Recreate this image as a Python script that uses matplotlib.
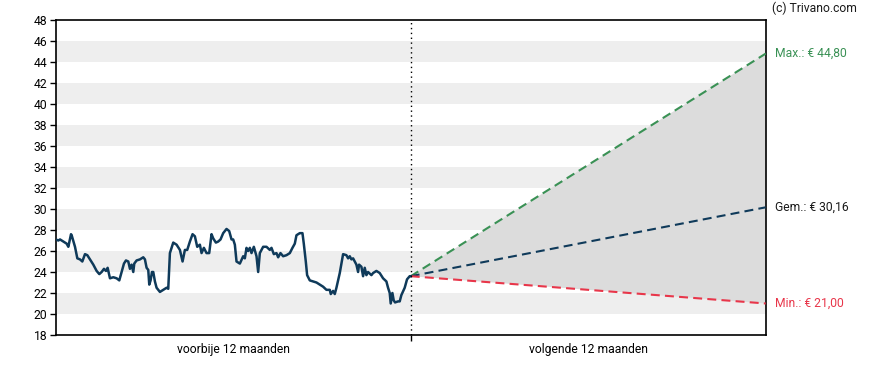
import matplotlib
matplotlib.use("Agg")
import matplotlib.pyplot as plt
import numpy as np

plt.rcParams['font.family'] = ['Roboto', 'DejaVu Sans']

# trace positions (0..1066 across the past 12 months) and prices, 10 per row
trace_x = [0, 8, 13, 23, 33, 38, 46, 48, 58, 65,
           73, 80, 88, 95, 103, 113, 123, 131, 138, 145,
           151, 156, 163, 173, 183, 191, 198, 205, 211, 218,
           223, 228, 233, 236, 243, 253, 263, 268, 273, 278,
           281, 285, 289, 293, 298, 303, 313, 323, 333, 338,
           343, 348, 353, 363, 373, 381, 388, 395, 403, 411,
           418, 425, 433, 438, 445, 453, 461, 468, 473, 481,
           488, 495, 503, 513, 521, 528, 533, 538, 543, 553,
           563, 568, 573, 578, 583, 588, 595, 603, 608, 613,
           618, 623, 633, 643, 648, 655, 663, 668, 675, 683,
           693, 703, 711, 718, 723, 733, 741, 745, 751, 755,
           763, 773, 783, 793, 803, 813, 823, 826, 833, 838,
           843, 848, 853, 858, 863, 873, 878, 883, 888, 893,
           898, 903, 908, 911, 918, 923, 928, 933, 938, 948,
           953, 963, 973, 983, 993, 998, 1003, 1006, 1011, 1015,
           1019, 1028, 1033, 1038, 1048, 1055, 1063, 1066]
prices = [27.1, 27.0, 27.1, 26.9, 26.7, 26.4, 27.6, 27.5, 26.4, 25.3,
          25.2, 25.0, 25.7, 25.6, 25.2, 24.7, 24.1, 23.8, 24.0, 24.3,
          24.1, 24.4, 23.4, 23.5, 23.4, 23.2, 24.0, 24.8, 25.1, 25.0,
          24.3, 24.7, 24.0, 24.8, 25.1, 25.2, 25.4, 25.2, 24.4, 24.2,
          22.8, 23.2, 24.0, 24.0, 23.1, 22.5, 22.1, 22.3, 22.5, 22.4,
          25.8, 26.3, 26.8, 26.6, 26.1, 25.0, 26.1, 26.1, 26.9, 27.6,
          27.4, 26.4, 26.6, 25.8, 26.3, 25.8, 25.8, 27.6, 27.2, 26.8,
          26.9, 27.1, 27.7, 28.1, 27.9, 27.1, 27.1, 26.6, 25.0, 24.8,
          25.5, 25.3, 26.3, 26.0, 26.3, 25.8, 26.4, 25.5, 24.0, 25.8,
          26.1, 26.4, 26.4, 26.1, 26.3, 25.7, 25.8, 25.4, 25.8, 25.5,
          25.6, 25.8, 26.3, 26.7, 27.5, 27.7, 27.7, 26.7, 25.0, 23.7,
          23.2, 23.1, 23.0, 22.8, 22.6, 22.3, 22.3, 21.9, 22.2, 21.9,
          22.5, 23.2, 23.9, 24.8, 25.7, 25.6, 25.3, 25.5, 25.2, 25.3,
          25.0, 24.7, 24.0, 24.7, 24.5, 23.6, 24.4, 23.7, 24.0, 23.7,
          23.9, 24.1, 23.9, 23.4, 23.1, 22.5, 22.0, 21.0, 22.0, 21.3,
          21.1, 21.2, 21.2, 21.8, 22.5, 23.3, 23.6, 23.6]

start_price = 23.6
forecast_max = 44.80
forecast_avg = 30.16
forecast_min = 21.00

y_ticks = list(range(18, 49, 2))
x_labels = ["voorbije 12 maanden", "volgende 12 maanden"]

navy = "#0f3a5a"
green = "#3a9155"
red = "#e8364a"
fs = 8.7

past_x = np.array(trace_x) / trace_x[-1]

fig = plt.figure(figsize=(8.88, 3.70), dpi=100)
ax = fig.add_axes([0.0627, 0.0946, 0.7996, 0.8514])
ax.set_xlim(0, 2)
ax.set_ylim(18, 48)

# background bands
for lo in range(20, 46, 4):
    ax.axhspan(lo, lo + 2, color="#eeeeee", lw=0, zorder=0)

# forecast fill
ax.fill([1, 2, 2], [start_price, forecast_max, forecast_min], color="#dcdcdc", lw=0, zorder=1)

ax.plot(past_x, prices, color=navy, lw=1.8, zorder=4, solid_joinstyle="round")

dash = (0, (4.3, 2.5))
ax.plot([1, 2], [start_price, forecast_max], color=green, lw=1.5, ls=dash, zorder=3)
ax.plot([1, 2], [start_price, forecast_avg], color=navy, lw=1.5, ls=dash, zorder=3)
ax.plot([1, 2], [start_price, forecast_min], color=red, lw=1.5, ls=dash, zorder=3)

ax.axvline(1, color="black", lw=1, ls=(0, (1, 2.5)), zorder=5)

ax.set_yticks(y_ticks)
ax.tick_params(axis="y", labelsize=fs, length=4, width=1, colors="black", pad=2)
ax.set_xticks([1])
ax.set_xticklabels([""])
ax.tick_params(axis="x", length=4, width=1)
ax.set_xticks([0.5, 1.5], minor=True)
ax.set_xticklabels(x_labels, minor=True, fontsize=fs)
ax.tick_params(axis="x", which="minor", length=0, pad=6)

for s in ax.spines.values():
    s.set_linewidth(1.2)
    s.set_color("black")

ax.text(2.025, forecast_max, "Max.: € 44,80", color=green, fontsize=fs, va="center", ha="left")
ax.text(2.025, forecast_avg, "Gem.: € 30,16", color="#1a1a1a", fontsize=fs, va="center", ha="left")
ax.text(2.025, forecast_min, "Min.: € 21,00", color=red, fontsize=fs, va="center", ha="left")
fig.text(0.869, 0.978, "(c) Trivano.com", fontsize=fs, va="center", ha="left", color="#1a1a1a")

fig.savefig("out.png", dpi=100)
